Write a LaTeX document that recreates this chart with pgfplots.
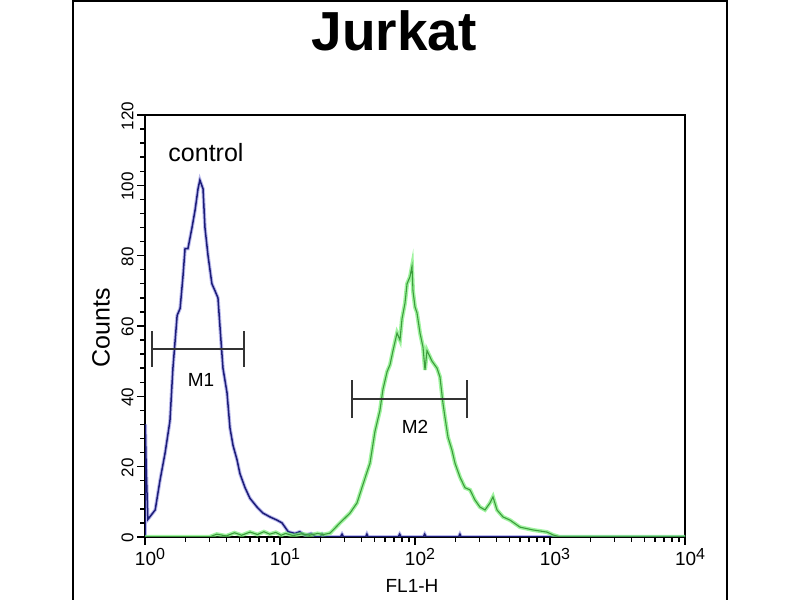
\documentclass[border=0pt]{standalone}
\usepackage{pgfplots}
\pgfplotsset{compat=1.18}
\usepackage{fontspec}
\setmainfont{Liberation Sans}
\definecolor{bluedark}{HTML}{1C1C78}
\definecolor{bluehalo}{HTML}{8C8CE0}
\definecolor{greendark}{HTML}{3C9C3C}
\definecolor{greenhalo}{HTML}{6CEC6C}
\pgfplotstableread{
x y
1.0 0
1.005 32
1.02 20
1.05 5
1.19 7.7
1.29 16
1.41 24
1.53 33
1.61 48
1.73 63
1.82 65
1.91 74
1.98 82
2.08 82
2.23 88
2.35 93
2.47 99
2.55 101.5
2.69 99
2.78 88
2.93 80
3.13 72
3.30 70
3.47 68
3.59 60
3.78 48
4.05 41
4.26 31
4.49 26
4.80 22
5.05 18
5.51 14
5.99 11
6.76 8.5
7.48 6.8
8.43 5.7
9.50 4.8
10.35 4
11.5 1.5
12.9 1
14.0 1.5
15.3 0.5
17.0 1
18.5 0
19.8 0
20.5 0.8
21.3 0
28.0 0
28.8 0.8
29.6 0
43.0 0
44.0 0.8
45.0 0
75.0 0
77.0 0.8
79.0 0
115.0 0
118.0 0.8
121.0 0
210.0 0
215.0 0.8
220.0 0
10000 0
}\bluedata
\pgfplotstableread{
x y
1.0 0
3.0 0
3.4 0.8
4.0 0.3
4.6 1.2
5.2 0.5
6.0 1.4
6.8 0.7
7.6 1.5
8.4 0.8
9.3 1.3
10.2 0.5
11.0 1.0
12.5 0.4
14.5 0.9
16.5 0.5
19.0 1.0
21.0 0.7
23.5 1.1
27.8 4
33.0 6.8
37.2 9.7
41.2 15
46.4 21
50.5 30
55.0 36
57.9 42
62.1 47
65.3 49
68.7 53
73.6 58
77.4 56
80.1 62
84.3 66.5
87.3 72
91.8 74
95.0 77
96.6 70
100 65.4
103.5 63.7
108.9 58
114.6 54
118.6 47.5
122.7 53
133.6 50
145.5 48
153.1 45.5
161.1 38
166.8 34
175.5 28.4
187.8 24.7
197.7 21
215.4 17
234.6 14
255.4 13.4
278.2 10.5
302.9 8.5
330.0 7.7
359.4 9.7
378.1 11.4
404.7 7.7
448.7 5.7
505.5 4.8
599.5 2.8
748.4 2
950.0 1.4
1052 0.6
1186 0
10000 0
}\greendata
\newcommand{\xl}[1]{10\raisebox{6bp}{\fontsize{16bp}{16bp}\selectfont #1}}
\newcommand{\yl}[1]{\fontsize{17bp}{17bp}\selectfont #1}
\begin{document}
\begin{tikzpicture}[x=1bp,y=1bp]
\path[use as bounding box] (0,0) rectangle (800,600);
\draw[line width=2.5bp] (73,-5) -- (73,599) -- (727,599) -- (727,-5);
\node[font=\fontsize{55bp}{55bp}\selectfont\bfseries, inner sep=0pt] at (394,569.5) {Jurkat};
\begin{axis}[
  at={(145bp,63bp)}, anchor=south west, scale only axis,
  width=540bp, height=422bp,
  xmode=log, xmin=1, xmax=10000, ymin=0, ymax=120,
  axis line style={line width=1.8bp},
  xtick={1,10,100,1000,10000},
  xticklabels={\xl{0},\xl{1},\xl{2},\xl{3},\xl{4}},
  ytick={0,20,40,60,80,100,120},
  yticklabels={\yl{0},\yl{20},\yl{40},\yl{60},\yl{80},\yl{100},\yl{120}},
  minor ytick={4,8,12,16,24,28,32,36,44,48,52,56,64,68,72,76,84,88,92,96,104,108,112,116},
  xtick pos=bottom, ytick pos=left,
  tick align=outside,
  major tick length=8bp, minor tick length=5bp,
  every tick/.append style={black, line width=1.6bp},
  every minor tick/.append style={black, line width=1.4bp},
  xticklabel style={font=\fontsize{19bp}{19bp}\selectfont, anchor=north, xshift=5bp},
  yticklabel style={rotate=90, anchor=south, xshift=-1bp},
  clip=true,
]
\addplot[bluehalo, line width=3.5bp, opacity=0.6] table[x=x,y=y] {\bluedata};
\addplot[bluedark, line width=1.5bp] table[x=x,y=y] {\bluedata};
\addplot[greenhalo, line width=4bp, opacity=0.65] table[x=x,y=y] {\greendata};
\addplot[greendark, line width=1.1bp] table[x=x,y=y] {\greendata};
% M1 marker
\addplot[black!80, line width=1.8bp] coordinates {(1.127,53.5) (5.41,53.5)};
\addplot[black!80, line width=1.8bp] coordinates {(1.127,48.4) (1.127,58.6)};
\addplot[black!80, line width=1.8bp] coordinates {(5.41,48.4) (5.41,58.6)};
% M2 marker
\addplot[black!80, line width=1.8bp] coordinates {(34.1,39.2) (242.8,39.2)};
\addplot[black!80, line width=1.8bp] coordinates {(34.1,33.8) (34.1,44.6)};
\addplot[black!80, line width=1.8bp] coordinates {(242.8,33.8) (242.8,44.6)};
\node[font=\fontsize{19bp}{19bp}\selectfont] at (axis cs:2.60,44.6) {M1};
\node[font=\fontsize{19bp}{19bp}\selectfont] at (axis cs:100,31.3) {M2};
\node[font=\fontsize{25bp}{25bp}\selectfont] at (axis cs:2.83,109.2) {control};
\end{axis}
\node[rotate=90, font=\fontsize{25bp}{25bp}\selectfont] at (101,272) {Counts};
\node[font=\fontsize{19bp}{19bp}\selectfont] at (412,14) {FL1-H};
\end{tikzpicture}
\end{document}
